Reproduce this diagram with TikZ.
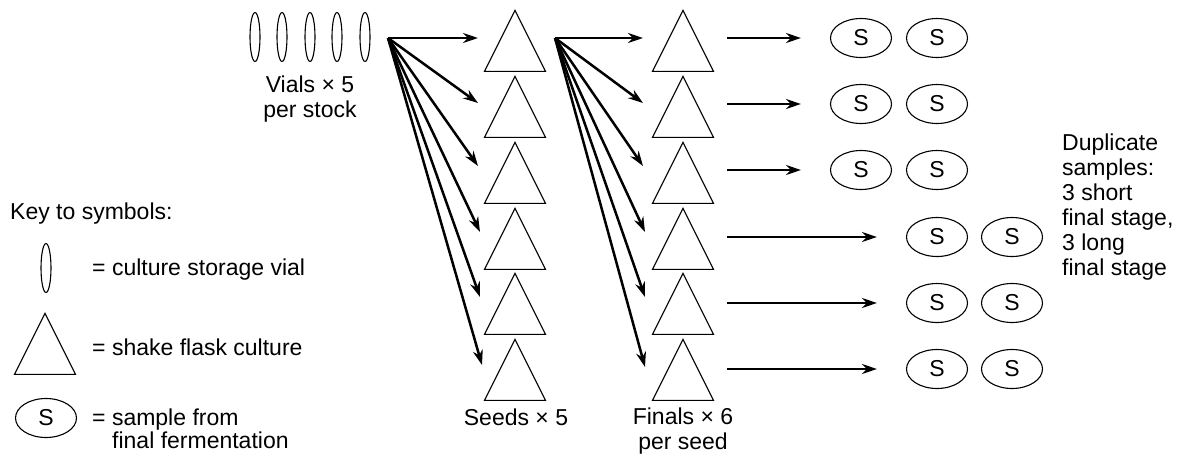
\documentclass[tikz,border=0pt]{standalone}
\usepackage{fontspec}
\setmainfont{Liberation Sans}
\usetikzlibrary{shapes.geometric,arrows.meta}

\begin{document}
\begin{tikzpicture}[
    x=1pt, y=-1pt,
    every node/.style={font=\fontsize{23}{25}\selectfont, inner sep=0pt},
    flask/.style={draw, line width=1.1pt, isosceles triangle,
        isosceles triangle stretches, shape border rotate=90,
        minimum width=61pt, minimum height=61pt, anchor=apex},
    vial/.style={draw, line width=1.1pt, ellipse, minimum width=10pt,
        minimum height=49pt},
    sample/.style={draw, line width=1.1pt, ellipse, minimum width=61pt,
        minimum height=39pt},
    feed/.style={-{Stealth[length=15pt,width=10pt]}, line width=2.5pt}
]
\useasboundingbox (0,0) rectangle (1187,456);

% vials
\node[vial] (v1) at (255,37) {};
\node[vial] (v2) at (282,37) {};
\node[vial] (v3) at (310,37) {};
\node[vial] (v4) at (337,37) {};
\node[vial] (v5) at (365,37) {};
\node[align=center] (vlab) at (310,99.5) {Vials × 5\\per stock};
\coordinate (vsrc) at (388,38);

% seeds
\node[flask] (s1) at (515,9) {};
\node[flask] (s2) at (515,75) {};
\node[flask] (s3) at (515,141) {};
\node[flask] (s4) at (515,207) {};
\node[flask] (s5) at (515,272) {};
\node[flask] (s6) at (515,338) {};
\node[anchor=base] (slab) at (516,425) {Seeds × 5};

\coordinate (st1) at (478,38);
\coordinate (st2) at (478,103);
\coordinate (st3) at (478,166);
\coordinate (st4) at (480,232);
\coordinate (st5) at (480,297);
\coordinate (st6) at (482,365);
\coordinate (fsrc) at (555,38);

% finals
\node[flask] (f1) at (683,9) {};
\node[flask] (f2) at (683,75) {};
\node[flask] (f3) at (683,141) {};
\node[flask] (f4) at (683,207) {};
\node[flask] (f5) at (683,272) {};
\node[flask] (f6) at (683,338) {};
\node[align=center] (flab) at (683,431.5) {Finals × 6\\per seed};

\coordinate (ft1) at (643,38);
\coordinate (ft2) at (643,103);
\coordinate (ft3) at (643,166);
\coordinate (ft4) at (645,232);
\coordinate (ft5) at (645,297);
\coordinate (ft6) at (645,367);

% samples
\coordinate (r1) at (727,38);
\coordinate (r2) at (727,104);
\coordinate (r3) at (727,170);
\coordinate (r4) at (727,237);
\coordinate (r5) at (727,303);
\coordinate (r6) at (727,369);

\node[sample] (a1) at (861,38) {S};
\node[sample] (b1) at (937,38) {S};
\node[sample] (a2) at (861,104) {S};
\node[sample] (b2) at (937,104) {S};
\node[sample] (a3) at (861,170) {S};
\node[sample] (b3) at (937,170) {S};
\node[sample] (a4) at (937,237) {S};
\node[sample] (b4) at (1012,237) {S};
\node[sample] (a5) at (937,303) {S};
\node[sample] (b5) at (1012,303) {S};
\node[sample] (a6) at (937,369) {S};
\node[sample] (b6) at (1012,369) {S};

\node[anchor=west, align=left] (dup) at (1062,207)
    {Duplicate\\samples:\\3 short\\final stage,\\3 long\\final stage};

% key
\node[anchor=base west] (key) at (10,219) {Key to symbols:};
\node[vial] (kv) at (46,268) {};
\node[anchor=base west] (kvt) at (92,275) {= culture storage vial};
\node[flask] (kf) at (45,312) {};
\node[anchor=base west] (kft) at (92,355) {= shake flask culture};
\node[sample] (ks) at (46,418) {S};
\node[anchor=base west] (kst) at (92,425) {= sample from};
\node[anchor=base west] (kst2) at (112,448) {final fermentation};

\draw[feed] (vsrc) -- (st1);
\draw[feed] (vsrc) -- (st2);
\draw[feed] (vsrc) -- (st3);
\draw[feed] (vsrc) -- (st4);
\draw[feed] (vsrc) -- (st5);
\draw[feed] (vsrc) -- (st6);

\draw[feed] (fsrc) -- (ft1);
\draw[feed] (fsrc) -- (ft2);
\draw[feed] (fsrc) -- (ft3);
\draw[feed] (fsrc) -- (ft4);
\draw[feed] (fsrc) -- (ft5);
\draw[feed] (fsrc) -- (ft6);

\draw[feed, shorten >=29pt] (r1) -- (a1);
\draw[feed, shorten >=29pt] (r2) -- (a2);
\draw[feed, shorten >=29pt] (r3) -- (a3);
\draw[feed, shorten >=29pt] (r4) -- (a4);
\draw[feed, shorten >=29pt] (r5) -- (a5);
\draw[feed, shorten >=29pt] (r6) -- (a6);

\end{tikzpicture}
\end{document}
